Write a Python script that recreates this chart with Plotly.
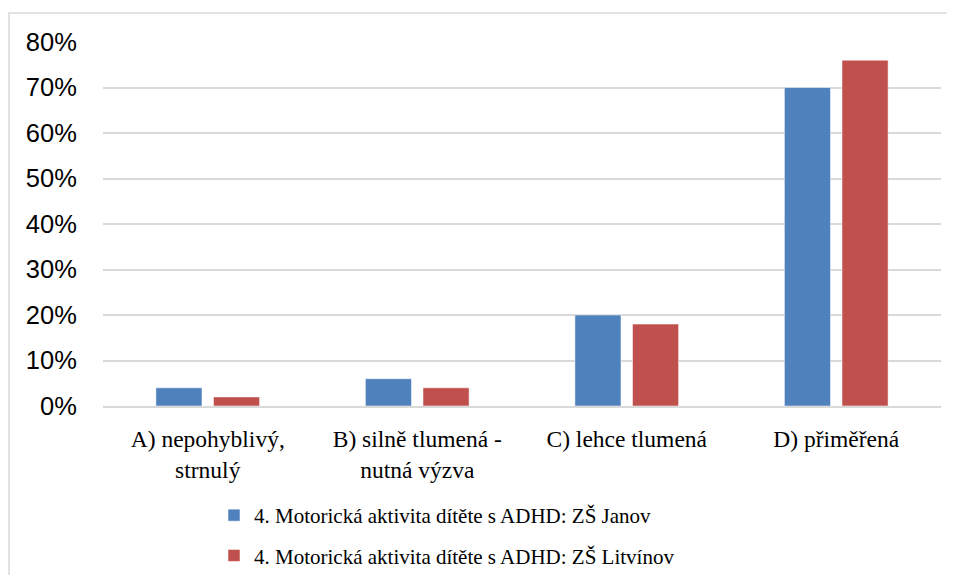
import plotly.graph_objects as go

categories = ["A) nepohyblivý,<br>strnulý", "B) silně tlumená -<br>nutná výzva",
              "C) lehce tlumená", "D) přiměřená"]
series_names = ["4. Motorická aktivita dítěte s ADHD: ZŠ Janov",
                "4. Motorická aktivita dítěte s ADHD: ZŠ Litvínov"]
janov = [0.04, 0.06, 0.20, 0.70]
litvinov = [0.02, 0.04, 0.18, 0.76]
colors = ["#4f81bd", "#c0504d"]

OFF = 8  # default page body margin
W, H = 955 - 2 * OFF, 583 - 2 * OFF
L, R, T, B = 103 - OFF, 941 - OFF, 42 - OFF, 406 - OFF
SANS = "Liberation Sans"
SERIF = "Liberation Serif"

fig = go.Figure()
for i, (name, vals) in enumerate(zip(series_names, [janov, litvinov])):
    fig.add_trace(go.Bar(
        x=categories, y=vals, name=name, legendgroup=f"g{i}",
        marker=dict(color=colors[i], line=dict(color="rgba(255,255,255,0.5)", width=1)),
    ))

def px_x(p):
    return (p - OFF - L) / (R - L)

def px_y(p):
    return (B - (p - OFF)) / (B - T)

fig.add_shape(type="rect", xref="paper", yref="paper",
              x0=px_x(9), x1=px_x(975), y0=px_y(13), y1=px_y(610),
              line=dict(color="#d9d9d9", width=1.5), fillcolor="rgba(0,0,0,0)", layer="below")

fig.update_layout(
    width=W, height=H,
    margin=dict(l=L, r=W - R, t=T, b=H - B, pad=0, autoexpand=False),
    paper_bgcolor="white", plot_bgcolor="white",
    barmode="group", bargap=0.45, bargroupgap=0.2,
    showlegend=True,
    legend=dict(x=px_x(214), xanchor="left", y=px_y(495), yanchor="top",
                orientation="v", traceorder="grouped", tracegroupgap=10,
                font=dict(family=SERIF, size=21, color="#000000"),
                bgcolor="rgba(0,0,0,0)"),
    xaxis=dict(showgrid=False, showline=True, linecolor="#d9d9d9", linewidth=1.5,
               tickfont=dict(family=SERIF, size=23.5, color="#000000"),
               ticks="outside", ticklen=11, tickcolor="rgba(0,0,0,0)", automargin=False),
    yaxis=dict(range=[0, 0.8], dtick=0.1, tickformat=".0%",
               showgrid=True, gridcolor="#d9d9d9", gridwidth=1.5,
               zeroline=False, showline=False,
               tickfont=dict(family=SANS, size=25.5, color="#000000"),
               ticks="outside", ticklen=20, tickcolor="rgba(0,0,0,0)", automargin=False),
)

fig.write_html("out.html")
